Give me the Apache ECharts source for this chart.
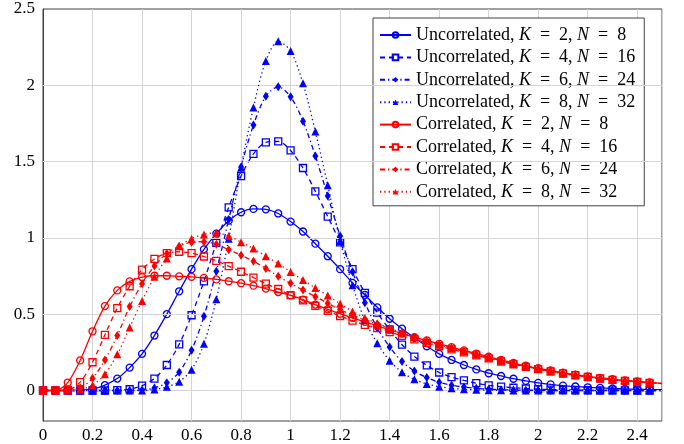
<!DOCTYPE html>
<html>
<head>
<meta charset="utf-8">
<script src="https://cdn.jsdelivr.net/npm/echarts@6/dist/echarts.min.js"></script>
<style>html,body{margin:0;padding:0;background:#fff}#c{width:684px;height:444px}</style>
</head>
<body>
<div id="c"></div>
<script>
var xValues = [0,0.05,0.1,0.15,0.2,0.25,0.3,0.35,0.4,0.45,0.5,0.55,0.6,0.65,0.7,0.75,0.8,0.85,0.9,0.95,1,1.05,1.1,1.15,1.2,1.25,1.3,1.35,1.4,1.45,1.5,1.55,1.6,1.65,1.7,1.75,1.8,1.85,1.9,1.95,2,2.05,2.1,2.15,2.2,2.25,2.3,2.35,2.4,2.45,2.5];
var uncK2 = [0,0,0,0.001,0.008,0.035,0.078,0.15,0.24,0.36, 0.5,0.65,0.795,0.925,1.028,1.113,1.168,1.19,1.187,1.16, 1.107,1.042,0.962,0.88,0.795,0.705,0.626,0.545,0.47,0.405, 0.345,0.29,0.24,0.2,0.167,0.138,0.113,0.095,0.077,0.063, 0.05,0.04,0.032,0.026,0.021,0.017,0.013,0.01,0.008,0.006, 0.005];
var uncK4 = [0,0,0,0,0,0,0.002,0.008,0.032,0.078, 0.167,0.302,0.493,0.715,0.967,1.2,1.405,1.55,1.626,1.632, 1.573,1.458,1.305,1.14,0.97,0.795,0.64,0.51,0.4,0.3, 0.222,0.165,0.118,0.088,0.066,0.048,0.034,0.025,0.018,0.013, 0.009,0.006,0.004,0.003,0.002,0.001,0.001,0.001,0,0, 0];
var uncK6 = [0,0,0,0,0,0,0,0,0.003,0.017, 0.05,0.12,0.263,0.486,0.782,1.12,1.465,1.74,1.928,1.99, 1.925,1.765,1.537,1.275,1.012,0.778,0.575,0.41,0.285,0.19, 0.127,0.085,0.054,0.035,0.022,0.014,0.008,0.005,0.003,0.002, 0.001,0,0,0,0,0,0,0,0,0, 0];
var uncK8 = [0,0,0,0,0,0,0,0,0,0.006, 0.024,0.058,0.136,0.306,0.598,0.995,1.46,1.855,2.16,2.288, 2.225,2.013,1.697,1.345,0.98,0.69,0.46,0.31,0.195,0.12, 0.073,0.043,0.025,0.014,0.008,0.004,0.002,0.001,0,0, 0,0,0,0,0,0,0,0,0,0, 0];
var corK2 = [0,0,0.052,0.197,0.388,0.553,0.656,0.715,0.743,0.752, 0.752,0.748,0.745,0.738,0.728,0.716,0.703,0.687,0.668,0.645, 0.624,0.596,0.563,0.532,0.502,0.476,0.45,0.424,0.398,0.373, 0.35,0.328,0.306,0.284,0.263,0.242,0.221,0.2,0.18,0.162, 0.146,0.131,0.117,0.104,0.093,0.083,0.074,0.066,0.059,0.053, 0.047];
var corK4 = [0,0,0.003,0.055,0.185,0.365,0.54,0.683,0.792,0.862, 0.9,0.909,0.9,0.878,0.85,0.815,0.778,0.74,0.7,0.665, 0.625,0.59,0.555,0.522,0.488,0.458,0.43,0.408,0.383,0.358, 0.335,0.312,0.29,0.27,0.25,0.23,0.21,0.19,0.172,0.155, 0.14,0.125,0.112,0.1,0.089,0.079,0.07,0.063,0.056,0.05, 0.045];
var corK6 = [0,0,0.002,0.018,0.08,0.2,0.36,0.55,0.7,0.815, 0.898,0.945,0.972,0.975,0.958,0.922,0.887,0.847,0.8,0.748, 0.702,0.658,0.615,0.572,0.53,0.495,0.463,0.435,0.405,0.375, 0.348,0.324,0.3,0.278,0.257,0.236,0.215,0.195,0.176,0.158, 0.142,0.127,0.113,0.101,0.09,0.08,0.071,0.064,0.057,0.051, 0.046];
var corK8 = [0,0,0,0.005,0.035,0.107,0.237,0.413,0.587,0.745, 0.865,0.945,0.995,1.023,1.033,1.012,0.972,0.93,0.88,0.832, 0.777,0.724,0.672,0.622,0.568,0.518,0.475,0.44,0.408,0.378, 0.35,0.325,0.3,0.278,0.257,0.236,0.215,0.195,0.175,0.158, 0.14,0.125,0.11,0.098,0.087,0.077,0.069,0.062,0.056,0.05, 0.045];
var seriesNames = [
  'Uncorrelated, K = 2, N = 8','Uncorrelated, K = 4, N = 16','Uncorrelated, K = 6, N = 24','Uncorrelated, K = 8, N = 32',
  'Correlated, K = 2, N = 8','Correlated, K = 4, N = 16','Correlated, K = 6, N = 24','Correlated, K = 8, N = 32'
];
var seriesValues = [uncK2, uncK4, uncK6, uncK8, corK2, corK4, corK6, corK8];
var yGridValues = [0, 0.5, 1, 1.5, 2];
var xTickLabels = ['0','0.2','0.4','0.6','0.8','1','1.2','1.4','1.6','1.8','2','2.2','2.4'];
var yTickLabels = ['0','0.5','1','1.5','2','2.5'];

var BLUE = '#0000ff', RED = '#ff0000';
var colors = [BLUE,BLUE,BLUE,BLUE,RED,RED,RED,RED];
var dashes = ['solid',[5,4],[5,3,1.3,3],[1.3,3],'solid',[5,4],[5,3,1.3,3],[1.3,3]];
var marks = ['circle','rect','diamond','triangle','circle','rect','diamond','triangle'];

function makeSeries(i){
  var c = colors[i], m = marks[i];
  var hollow = (m === 'circle' || m === 'rect');
  var size = m === 'diamond' ? [6,9] : (m === 'triangle' ? 8 : 7);
  var data = xValues.map(function(x, k){
    var p = [x, seriesValues[i][k]];
    return k === xValues.length - 1 ? {value: p, symbol: 'none'} : p;
  });
  return {
    name: seriesNames[i], type: 'line', data: data,
    symbol: m, symbolSize: size, showAllSymbol: true,
    smooth: 0.3, z: 3 + i, animation: false,
    lineStyle: {color: c, width: 1.3, type: dashes[i]},
    itemStyle: hollow ? {color: 'rgba(255,255,255,0)', borderColor: c, borderWidth: 1.3} : {color: c, borderColor: c, borderWidth: 0},
    emphasis: {disabled: true}
  };
}

var series = [{
  name: 'grid', type: 'line', data: [], z: 1, silent: true, animation: false,
  markLine: {silent: true, symbol: 'none', animation: false, label: {show: false},
    lineStyle: {color: '#d4d4d4', type: 'solid', width: 1},
    data: yGridValues.map(function(v){ return {yAxis: v}; })}
}];
for (var i = 0; i < 8; i++) series.push(makeSeries(i));

var chart = echarts.init(document.getElementById('c'), null, {renderer: 'canvas'});
chart.setOption({
  backgroundColor: '#fff',
  animation: false,
  grid: {left: 43, right: 22, top: 9, bottom: 21, show: true, borderColor: '#404040', borderWidth: 1, backgroundColor: 'transparent'},
  xAxis: {
    type: 'value', min: 0, max: 2.5, interval: 0.2,
    axisLine: {show: true, lineStyle: {color: '#404040', width: 1}},
    axisTick: {show: false},
    splitLine: {show: true, lineStyle: {color: '#d4d4d4', width: 1}},
    axisLabel: {
      color: '#000', fontFamily: 'Liberation Serif', fontSize: 17, margin: 6,
      formatter: function(v){
        var idx = Math.round(v / 0.2);
        if (Math.abs(v - idx * 0.2) > 1e-6) return '';
        return xTickLabels[idx] !== undefined ? xTickLabels[idx] : '';
      }
    }
  },
  yAxis: {
    type: 'value', min: -0.2, max: 2.5, interval: 0.1,
    axisLine: {show: true, lineStyle: {color: '#404040', width: 1}},
    axisTick: {show: false},
    splitLine: {show: false},
    axisLabel: {
      color: '#000', fontFamily: 'Liberation Serif', fontSize: 17, margin: 8,
      formatter: function(v){
        var idx = Math.round(v / 0.5);
        if (v < -1e-6 || Math.abs(v - idx * 0.5) > 1e-6) return '';
        return yTickLabels[idx] !== undefined ? yTickLabels[idx] : '';
      }
    }
  },
  legend: {
    data: seriesNames, orient: 'vertical', left: 373, top: 18,
    backgroundColor: '#fff', borderColor: '#404040', borderWidth: 1,
    padding: [8, 9, 5, 6], itemGap: 4.4, itemWidth: 31, itemHeight: 7,
    selectedMode: false,
    textStyle: {color: '#000', fontFamily: 'Liberation Serif', fontSize: 18, lineHeight: 18,
      rich: {i: {fontStyle: 'italic', fontFamily: 'Liberation Serif', fontSize: 18, color: '#000'}}},
    formatter: function(name){
      return name.replace('K', '{i|K}').replace('N', '{i|N}').replace(/ = /g, '\u2002=\u2002');
    }
  },
  series: series
});
</script>
</body>
</html>
